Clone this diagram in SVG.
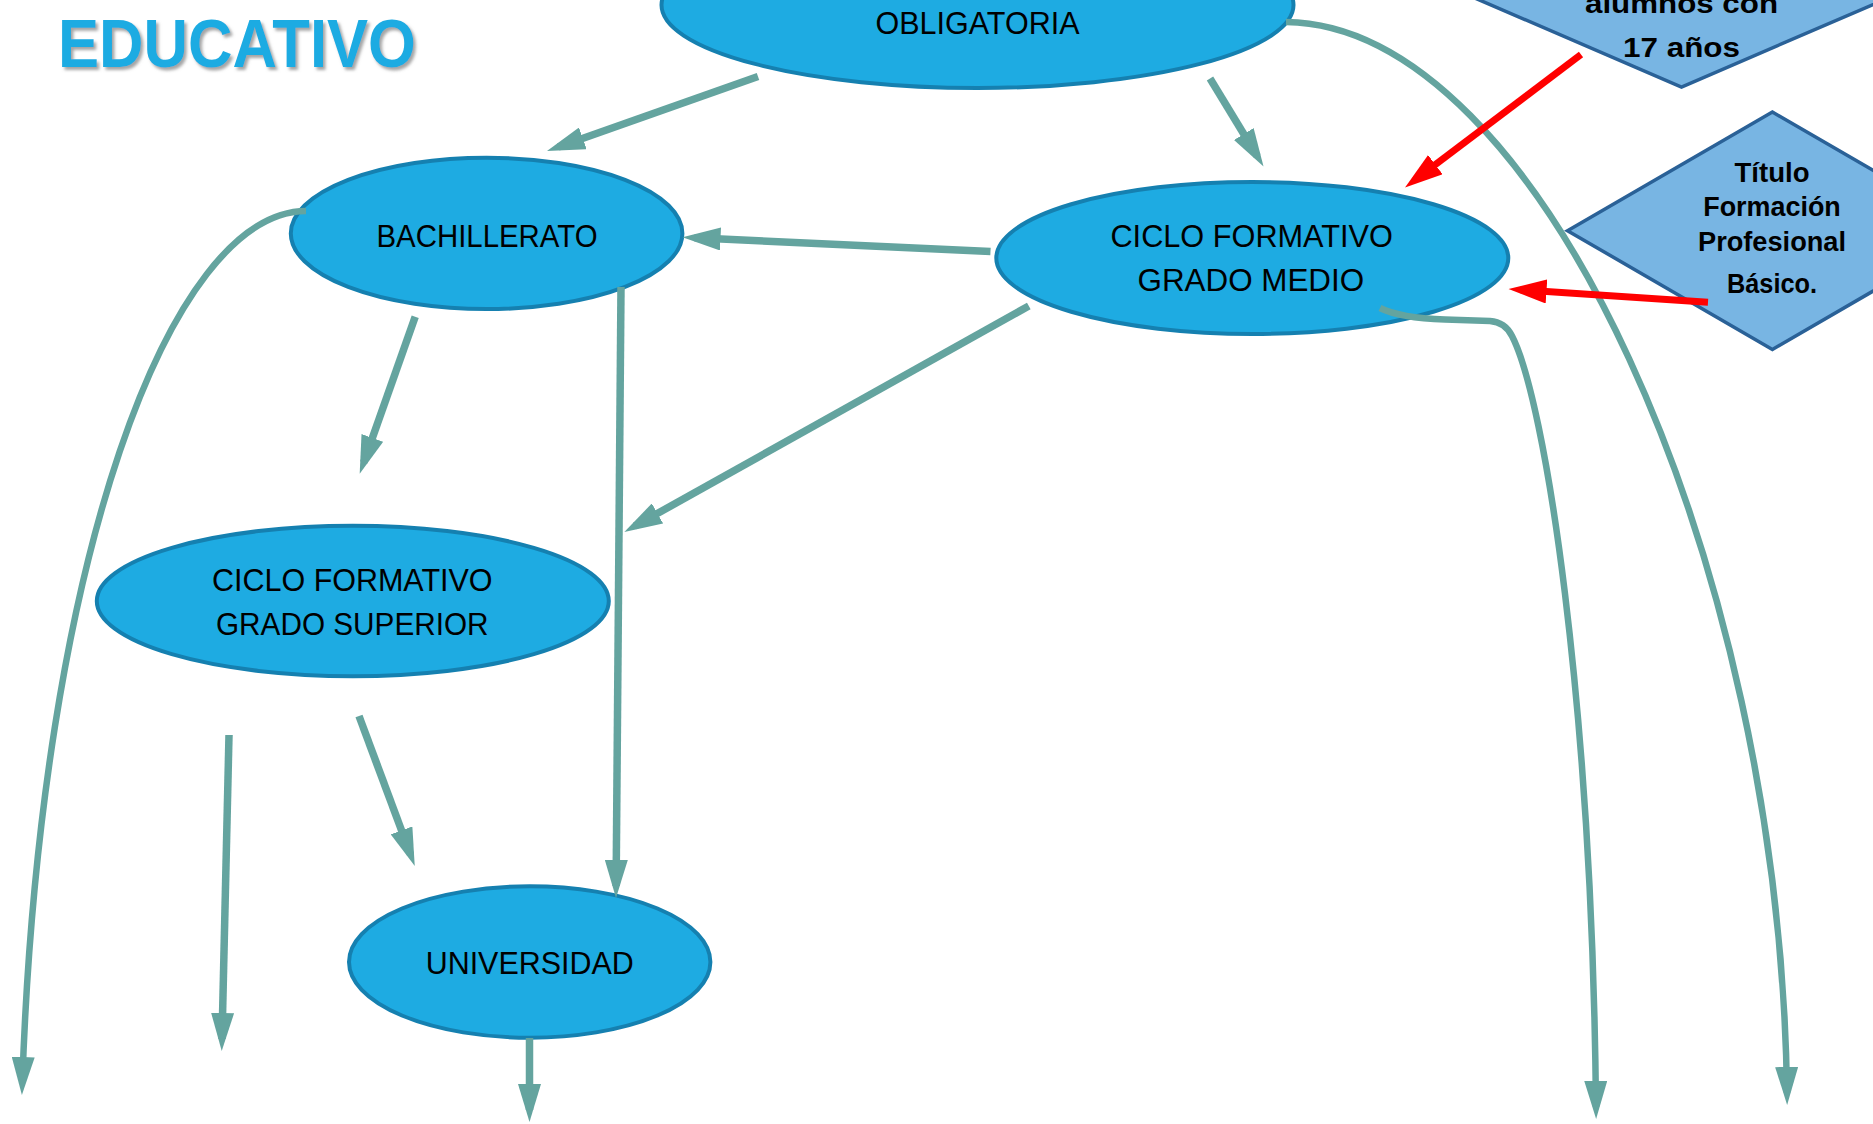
<svg xmlns="http://www.w3.org/2000/svg" width="1873" height="1124" viewBox="0 0 1873 1124">
<style>
.node{fill:#1EABE2;stroke:#1580B0;stroke-width:4}
.dia{fill:#78B5E3;stroke:#2A6197;stroke-width:3.5}
.lbl{font-family:"Liberation Sans",Arial,sans-serif;font-size:32px;fill:#000;text-anchor:middle}
.dlbl{font-family:"Liberation Sans",Arial,sans-serif;font-size:27px;font-weight:bold;fill:#000;text-anchor:middle}
.con{fill:none;stroke:#64A49F;stroke-width:7.5}
.curve{fill:none;stroke:#64A49F;stroke-width:6.5}
.red{fill:none;stroke:#FF0000;stroke-width:7}
.title{font-family:"Liberation Sans",Arial,sans-serif;font-size:68px;font-weight:bold;fill:#1EABE2}
</style>
<defs>
<marker id="ah" markerUnits="userSpaceOnUse" markerWidth="38" markerHeight="23" viewBox="0 0 38 23" refX="26" refY="11.5" orient="auto"><path d="M0,0 L38,11.5 L0,23 z" fill="#64A49F"/></marker>
<marker id="ahr" markerUnits="userSpaceOnUse" markerWidth="38" markerHeight="24" viewBox="0 0 38 24" refX="26" refY="12" orient="auto"><path d="M0,0 L38,12 L0,24 z" fill="#FF0000"/></marker>
<filter id="sh" x="-10%" y="-20%" width="120%" height="150%"><feDropShadow dx="2.5" dy="3" stdDeviation="1.5" flood-color="#7f7f7f" flood-opacity="0.7"/></filter>
</defs>
<rect width="1873" height="1124" fill="#FFFFFF"/>

<g id="title"><text class="title" x="58" y="67" textLength="358" lengthAdjust="spacingAndGlyphs" filter="url(#sh)">EDUCATIVO</text></g>

<g id="node-obligatoria"><ellipse class="node" cx="977.5" cy="5" rx="316" ry="83"/><text class="lbl" x="977.5" y="33.5" textLength="204" lengthAdjust="spacingAndGlyphs">OBLIGATORIA</text></g>

<g id="node-alumnos17"><polygon class="dia" points="1340,-60 1681.5,-207 2023,-60 1681.5,87"/><text class="dlbl" x="1681.5" y="13.4" textLength="193" lengthAdjust="spacingAndGlyphs">alumnos con</text><text class="dlbl" x="1681.5" y="57.4" textLength="117" lengthAdjust="spacingAndGlyphs">17 años</text></g>

<g id="node-titulo-fpb"><polygon class="dia" points="1567.5,230.7 1772.4,112 1977.3,230.7 1772.4,349.4"/><text class="dlbl" x="1772" y="181.8" textLength="75" lengthAdjust="spacingAndGlyphs">Título</text><text class="dlbl" x="1772" y="216" textLength="137.5" lengthAdjust="spacingAndGlyphs">Formación</text><text class="dlbl" x="1772" y="250.6" textLength="148" lengthAdjust="spacingAndGlyphs">Profesional</text><text class="dlbl" x="1772" y="292.7" textLength="90" lengthAdjust="spacingAndGlyphs">Básico.</text></g>

<g id="node-bachillerato"><ellipse class="node" cx="486.6" cy="233.4" rx="195.8" ry="75.7"/><text class="lbl" x="487" y="246.8" textLength="221" lengthAdjust="spacingAndGlyphs">BACHILLERATO</text></g>

<g id="node-grado-medio"><ellipse class="node" cx="1252.3" cy="258" rx="256" ry="76"/><text class="lbl" x="1251.7" y="246.5" textLength="282.5" lengthAdjust="spacingAndGlyphs">CICLO FORMATIVO</text><text class="lbl" x="1250.8" y="291" textLength="226.5" lengthAdjust="spacingAndGlyphs">GRADO MEDIO</text></g>

<g id="node-grado-superior"><ellipse class="node" cx="352.8" cy="601" rx="256" ry="75.2"/><text class="lbl" x="352.3" y="590.7" textLength="280.6" lengthAdjust="spacingAndGlyphs">CICLO FORMATIVO</text><text class="lbl" x="352.3" y="635.3" textLength="272.6" lengthAdjust="spacingAndGlyphs">GRADO SUPERIOR</text></g>

<g id="node-universidad"><ellipse class="node" cx="529.7" cy="962" rx="180.7" ry="75.7"/><text class="lbl" x="529.7" y="973.7" textLength="208" lengthAdjust="spacingAndGlyphs">UNIVERSIDAD</text></g>

<g id="connectors">
<path class="con" marker-end="url(#ah)" d="M758,76.5 L558.3,147"/>
<path class="con" marker-end="url(#ah)" d="M1210,78.5 L1257.3,156.3"/>
<path class="con" marker-end="url(#ah)" d="M990.5,251.4 L694.5,237.8"/>
<path class="con" marker-end="url(#ah)" d="M1028.8,306 L634.8,526.1"/>
<path class="con" marker-end="url(#ah)" d="M415.2,316.8 L363.7,462.4"/>
<path class="con" marker-end="url(#ah)" d="M621,287 L616.1,886"/>
<path class="con" marker-end="url(#ah)" d="M359,716 L410.6,854.8"/>
<path class="con" marker-end="url(#ah)" d="M229,735 L222,1039"/>
<path class="con" marker-end="url(#ah)" d="M529.5,1038 L529.5,1110"/>
<path class="curve" marker-end="url(#ah)" d="M306,211 C170,212 40,560 22.3,1083"/>
<path class="curve" marker-end="url(#ah)" d="M1286,22 C1540,25 1780,560 1787,1093"/>
<path class="curve" marker-end="url(#ah)" d="M1380,308 Q1400,318 1445,319.5 L1490,321 Q1505,322 1512,336 C1545,400 1592,700 1596,1107"/>
<path class="red" marker-end="url(#ahr)" d="M1581,54.5 L1414.6,180.3"/>
<path class="red" marker-end="url(#ahr)" d="M1708,302.3 L1520.5,289.8"/>
</g>
</svg>
